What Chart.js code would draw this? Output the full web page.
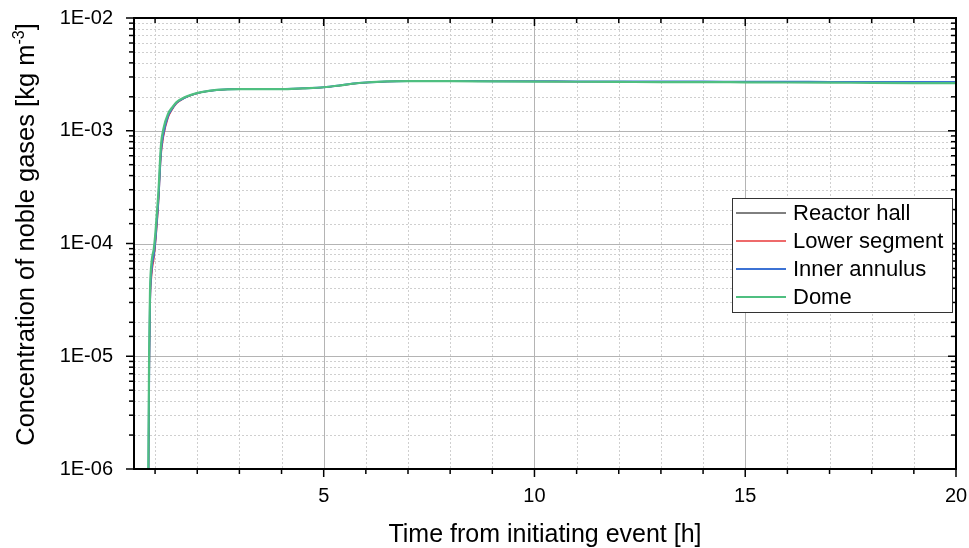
<!DOCTYPE html>
<html><head><meta charset="utf-8">
<script src="https://cdn.jsdelivr.net/npm/chart.js@4.4.1/dist/chart.umd.min.js"></script>
<style>html,body{margin:0;padding:0;background:#fff;overflow:hidden}#wrap{width:969px;height:548px;position:relative}</style>
</head><body><div id="wrap"><canvas id="c" width="969" height="548"></canvas></div>
<script>
const seriesNames = ['Reactor hall', 'Lower segment', 'Inner annulus', 'Dome'];
const seriesColors = ['#000000', '#e8393a', '#3c72d4', '#4fbf80'];
const seriesWidths = [1, 1.3, 2, 2.2];

const timeH = [0.84, 0.86, 0.88, 0.92, 0.97, 1.0, 1.04, 1.08, 1.14, 1.2, 1.31, 1.4, 1.51, 1.7, 1.87, 2.1, 2.46, 3.0, 3.5, 4.0, 4.5, 5.0, 5.4, 5.7, 6.0, 6.5, 7.0, 8, 9, 10, 11, 12, 13, 14, 15, 16, 17, 18, 19, 20];

const reactorHall = [5e-7, 6e-6, 2.7e-5, 5.6e-5, 7.6e-5, 9.5e-5, 1.45e-4, 2.35e-4, 6.2e-4, 9.2e-4, 1.33e-3, 1.54e-3, 1.75e-3, 1.95e-3, 2.07e-3, 2.19e-3, 2.29e-3, 2.34e-3, 2.34e-3, 2.34e-3, 2.37e-3, 2.42e-3, 2.52e-3, 2.61e-3, 2.67e-3, 2.73e-3, 2.75e-3, 2.75e-3, 2.74e-3, 2.74e-3, 2.73e-3, 2.73e-3, 2.72e-3, 2.72e-3, 2.71e-3, 2.70e-3, 2.70e-3, 2.69e-3, 2.69e-3, 2.68e-3];
const lowerSegment = [4e-7, 5e-6, 2.4e-5, 5.2e-5, 7.2e-5, 9.0e-5, 1.35e-4, 2.2e-4, 5.8e-4, 8.8e-4, 1.3e-3, 1.52e-3, 1.74e-3, 1.95e-3, 2.07e-3, 2.19e-3, 2.29e-3, 2.34e-3, 2.34e-3, 2.34e-3, 2.37e-3, 2.42e-3, 2.52e-3, 2.61e-3, 2.67e-3, 2.73e-3, 2.75e-3, 2.75e-3, 2.74e-3, 2.74e-3, 2.73e-3, 2.73e-3, 2.72e-3, 2.72e-3, 2.71e-3, 2.71e-3, 2.70e-3, 2.70e-3, 2.69e-3, 2.69e-3];
const innerAnnulus = [6e-7, 8e-6, 3.0e-5, 6.0e-5, 8.0e-5, 1.0e-4, 1.55e-4, 2.5e-4, 6.5e-4, 9.5e-4, 1.36e-3, 1.56e-3, 1.77e-3, 1.96e-3, 2.08e-3, 2.2e-3, 2.3e-3, 2.35e-3, 2.35e-3, 2.35e-3, 2.38e-3, 2.43e-3, 2.53e-3, 2.62e-3, 2.68e-3, 2.74e-3, 2.76e-3, 2.76e-3, 2.75e-3, 2.75e-3, 2.74e-3, 2.74e-3, 2.73e-3, 2.73e-3, 2.72e-3, 2.72e-3, 2.71e-3, 2.71e-3, 2.70e-3, 2.70e-3];
const dome = [1.0e-6, 1.2e-5, 3.8e-5, 7.0e-5, 9.0e-5, 1.15e-4, 1.8e-4, 2.9e-4, 7.5e-4, 1.05e-3, 1.42e-3, 1.6e-3, 1.8e-3, 1.98e-3, 2.09e-3, 2.2e-3, 2.3e-3, 2.34e-3, 2.34e-3, 2.34e-3, 2.38e-3, 2.43e-3, 2.53e-3, 2.62e-3, 2.68e-3, 2.74e-3, 2.75e-3, 2.75e-3, 2.74e-3, 2.73e-3, 2.72e-3, 2.71e-3, 2.70e-3, 2.70e-3, 2.69e-3, 2.68e-3, 2.67e-3, 2.66e-3, 2.65e-3, 2.64e-3];

const seriesValues = [reactorHall, lowerSegment, innerAnnulus, dome];

const xMin = 0.5, xMax = 20, xMinorStep = 1;
const xMajorTicks = [5, 10, 15, 20];
const yMin = 1e-6, yMax = 1e-2;
const yTickLabels = ['1E-06', '1E-05', '1E-04', '1E-03', '1E-02'];
const xTitle = 'Time from initiating event [h]';
const yTitleMain = 'Concentration of noble gases [kg m';
const yTitleSup = '-3';
const yTitleEnd = ']';

const FONT = '"Liberation Sans", Arial, sans-serif';

function isMajorX(v) { return xMajorTicks.includes(v); }
function isMajorY(v) { const e = Math.log10(v); return Math.abs(e - Math.round(e)) < 1e-6; }

function seg(ctx, x1, y1, x2, y2) { ctx.beginPath(); ctx.moveTo(x1, y1); ctx.lineTo(x2, y2); ctx.stroke(); }

const framePlugin = {
  id: 'frame',
  beforeDatasetsDraw(chart) {
    const { ctx, chartArea: a, scales: { x, y } } = chart;
    ctx.save();
    ctx.lineWidth = 1;
    ctx.strokeStyle = '#cfcfcf';
    ctx.setLineDash([2, 2]);
    x.ticks.forEach(t => {
      if (isMajorX(t.value)) return;
      const px = Math.round(x.getPixelForValue(t.value)) + 0.5;
      seg(ctx, px, a.top, px, a.bottom);
    });
    y.ticks.forEach(t => {
      if (isMajorY(t.value)) return;
      const py = Math.round(y.getPixelForValue(t.value)) + 0.5;
      seg(ctx, a.left, py, a.right, py);
    });
    ctx.setLineDash([]);
    ctx.strokeStyle = '#b4b4b4';
    x.ticks.forEach(t => {
      if (!isMajorX(t.value)) return;
      const px = Math.round(x.getPixelForValue(t.value)) + 0.5;
      seg(ctx, px, a.top, px, a.bottom);
    });
    y.ticks.forEach(t => {
      if (!isMajorY(t.value)) return;
      const py = Math.round(y.getPixelForValue(t.value)) + 0.5;
      seg(ctx, a.left, py, a.right, py);
    });
    ctx.restore();
  },
  afterDatasetsDraw(chart) {
    const { ctx, chartArea: a, scales: { x, y } } = chart;
    ctx.save();
    ctx.strokeStyle = '#000';
    ctx.lineWidth = 2;
    ctx.strokeRect(a.left, a.top, a.right - a.left, a.bottom - a.top);
    ctx.lineWidth = 1.5;
    x.ticks.forEach(t => {
      const px = x.getPixelForValue(t.value);
      const L = isMajorX(t.value) ? 8 : 5;
      seg(ctx, px, a.bottom, px, a.bottom + L);
      seg(ctx, px, a.top, px, a.top + L);
    });
    y.ticks.forEach(t => {
      const py = y.getPixelForValue(t.value);
      const L = isMajorY(t.value) ? 8 : 5;
      seg(ctx, a.left - L, py, a.left, py);
      seg(ctx, a.right - L, py, a.right, py);
    });
    ctx.restore();
  },
  afterDraw(chart) {
    const { ctx, chartArea: a } = chart;
    // y title
    ctx.save();
    ctx.fillStyle = '#000';
    ctx.translate(34, (a.top + a.bottom) / 2 - 9);
    ctx.rotate(-Math.PI / 2);
    const mainFont = '25.5px ' + FONT, supFont = '16px ' + FONT;
    ctx.font = mainFont; const w1 = ctx.measureText(yTitleMain).width; const w3 = ctx.measureText(yTitleEnd).width;
    ctx.font = supFont; const w2 = ctx.measureText(yTitleSup).width;
    let sx = -(w1 + w2 + w3) / 2;
    ctx.textBaseline = 'alphabetic'; ctx.textAlign = 'left';
    ctx.font = mainFont; ctx.fillText(yTitleMain, sx, 0); sx += w1;
    ctx.font = supFont; ctx.fillText(yTitleSup, sx, -10); sx += w2;
    ctx.font = mainFont; ctx.fillText(yTitleEnd, sx, 0);
    ctx.restore();

    // legend
    ctx.save();
    const bw = 220, bh = 114;
    const bx = a.right - 4 - bw, by = a.top + 180;
    ctx.fillStyle = '#fff';
    ctx.fillRect(bx, by, bw, bh);
    ctx.strokeStyle = '#333';
    ctx.lineWidth = 1;
    ctx.strokeRect(bx + 0.5, by + 0.5, bw, bh);
    ctx.font = '22px ' + FONT;
    ctx.textBaseline = 'middle';
    ctx.textAlign = 'left';
    chart.data.datasets.forEach((ds, i) => {
      const cy = by + 15 + i * 28;
      ctx.strokeStyle = ds.borderColor;
      ctx.lineWidth = ds.borderWidth;
      seg(ctx, bx + 4, cy, bx + 54, cy);
      ctx.fillStyle = '#000';
      ctx.fillText(ds.label, bx + 61, cy + 1);
    });
    ctx.restore();
  }
};

const datasets = seriesNames.map((name, i) => ({
  label: name,
  data: timeH.map((t, j) => ({ x: t, y: seriesValues[i][j] })),
  borderColor: seriesColors[i],
  backgroundColor: seriesColors[i],
  borderWidth: seriesWidths[i],
  pointRadius: 0,
  fill: false,
  cubicInterpolationMode: 'monotone',
  order: seriesNames.length - i
}));

new Chart(document.getElementById('c'), {
  type: 'line',
  data: { datasets },
  plugins: [framePlugin],
  options: {
    responsive: false,
    animation: false,
    devicePixelRatio: 1,
    layout: { padding: { left: 0, top: 18, right: 13, bottom: 0 } },
    plugins: { legend: { display: false }, tooltip: { enabled: false } },
    scales: {
      x: {
        type: 'linear', min: xMin, max: xMax,
        afterBuildTicks: s => {
          const arr = [];
          for (let v = Math.ceil(s.min); v <= s.max; v += xMinorStep) arr.push({ value: v });
          s.ticks = arr;
        },
        afterFit: s => { s.height = 79; s.paddingLeft = 0; s.paddingRight = 0; },
        grid: { display: false },
        border: { display: false },
        ticks: {
          autoSkip: false, maxRotation: 0, padding: 7, color: '#000',
          font: { family: FONT, size: 20 },
          callback: v => isMajorX(v) ? String(v) : ''
        },
        title: {
          display: true, text: xTitle, color: '#000',
          font: { family: FONT, size: 25 },
          padding: { top: 0, bottom: -2 }
        }
      },
      y: {
        type: 'logarithmic', min: yMin, max: yMax,
        afterFit: s => { s.width = 134; s.paddingTop = 0; s.paddingBottom = 0; },
        grid: { display: false },
        border: { display: false },
        ticks: {
          autoSkip: false, padding: 13, color: '#000',
          font: { family: FONT, size: 20 },
          callback: v => isMajorY(v) ? yTickLabels[Math.round(Math.log10(v)) - Math.round(Math.log10(yMin))] : ''
        }
      }
    }
  }
});
</script>
</body></html>
